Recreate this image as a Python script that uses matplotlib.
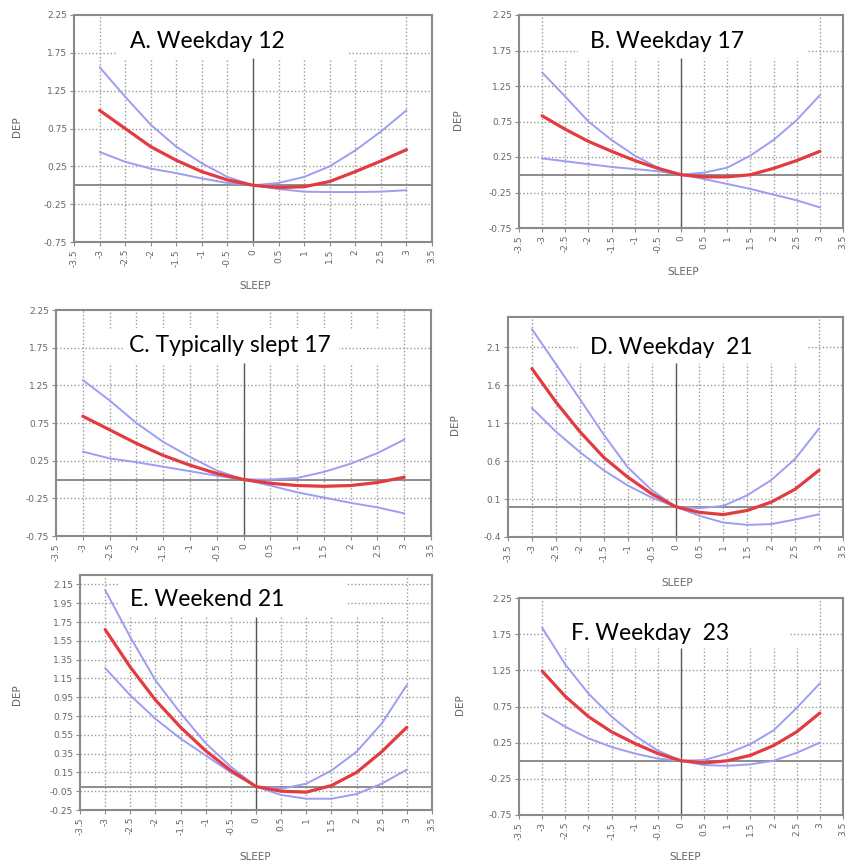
import matplotlib
matplotlib.use("Agg")
import matplotlib.pyplot as plt
from matplotlib.patches import Rectangle

W, H = 850, 867

# ---------------- data ----------------
sleep = [-3, -2.5, -2, -1.5, -1, -0.5, 0, 0.5, 1, 1.5, 2, 2.5, 3]
x_ticks = [-3.5, -3, -2.5, -2, -1.5, -1, -0.5, 0, 0.5, 1, 1.5, 2, 2.5, 3, 3.5]
x_tick_labels = ["-3.5", "-3", "-2.5", "-2", "-1.5", "-1", "-0.5", "0",
                 "0.5", "1", "1.5", "2", "2.5", "3", "3.5"]

titles = ["A. Weekday 12", "B. Weekday 17", "C. Typically slept 17",
          "D. Weekday  21", "E. Weekend 21", "F. Weekday  23"]

a_est = [0.99, 0.75, 0.51, 0.33, 0.18, 0.07, 0.0, -0.03, -0.02, 0.05, 0.18, 0.32, 0.47]
a_upper = [1.56, 1.17, 0.80, 0.51, 0.29, 0.11, 0.0, 0.03, 0.11, 0.25, 0.46, 0.71, 0.99]
a_lower = [0.44, 0.31, 0.22, 0.16, 0.09, 0.03, 0.0, -0.05, -0.085, -0.09, -0.09, -0.085, -0.065]

b_est = [0.83, 0.64, 0.47, 0.33, 0.20, 0.09, 0.0, -0.03, -0.03, 0.0, 0.09, 0.20, 0.33]
b_upper = [1.44, 1.10, 0.75, 0.49, 0.27, 0.10, 0.0, 0.03, 0.10, 0.27, 0.49, 0.77, 1.12]
b_lower = [0.23, 0.19, 0.15, 0.11, 0.08, 0.05, 0.0, -0.06, -0.13, -0.20, -0.28, -0.36, -0.46]

c_est = [0.84, 0.66, 0.48, 0.32, 0.19, 0.08, 0.0, -0.05, -0.08, -0.09, -0.08, -0.04, 0.03]
c_upper = [1.32, 1.05, 0.75, 0.50, 0.30, 0.12, 0.0, 0.0, 0.02, 0.10, 0.21, 0.35, 0.53]
c_lower = [0.37, 0.28, 0.23, 0.17, 0.11, 0.05, 0.0, -0.08, -0.17, -0.24, -0.31, -0.37, -0.45]

d_est = [1.82, 1.38, 0.99, 0.65, 0.39, 0.17, 0.0, -0.075, -0.105, -0.05, 0.06, 0.23, 0.48]
d_upper = [2.34, 1.88, 1.42, 0.95, 0.52, 0.22, 0.0, -0.02, 0.01, 0.15, 0.35, 0.63, 1.03]
d_lower = [1.30, 0.99, 0.72, 0.48, 0.28, 0.12, 0.0, -0.12, -0.21, -0.24, -0.23, -0.17, -0.10]

e_est = [1.67, 1.27, 0.92, 0.63, 0.38, 0.17, 0.0, -0.05, -0.06, 0.01, 0.15, 0.37, 0.63]
e_upper = [2.09, 1.59, 1.13, 0.78, 0.46, 0.21, 0.0, -0.025, 0.03, 0.17, 0.37, 0.67, 1.08]
e_lower = [1.26, 0.97, 0.72, 0.51, 0.33, 0.15, 0.0, -0.09, -0.13, -0.13, -0.08, 0.03, 0.18]

f_est = [1.24, 0.89, 0.61, 0.40, 0.24, 0.10, 0.0, -0.03, 0.0, 0.075, 0.21, 0.40, 0.66]
f_upper = [1.84, 1.33, 0.93, 0.61, 0.35, 0.14, 0.0, 0.01, 0.10, 0.23, 0.42, 0.73, 1.07]
f_lower = [0.66, 0.47, 0.31, 0.19, 0.10, 0.03, 0.0, -0.06, -0.07, -0.05, 0.0, 0.11, 0.25]

y_ticks_std = [-0.75, -0.25, 0.25, 0.75, 1.25, 1.75, 2.25]
y_labels_std = ["-0.75", "-0.25", "0.25", "0.75", "1.25", "1.75", "2.25"]
y_ticks_d = [-0.4, 0.1, 0.6, 1.1, 1.6, 2.1]
y_labels_d = ["-0.4", "0.1", "0.6", "1.1", "1.6", "2.1"]
y_ticks_e = [-0.25, -0.05, 0.15, 0.35, 0.55, 0.75, 0.95, 1.15, 1.35, 1.55, 1.75, 1.95, 2.15]
y_labels_e = ["-0.25", "-0.05", "0.15", "0.35", "0.55", "0.75", "0.95", "1.15",
              "1.35", "1.55", "1.75", "1.95", "2.15"]

series = [(a_est, a_upper, a_lower), (b_est, b_upper, b_lower), (c_est, c_upper, c_lower),
          (d_est, d_upper, d_lower), (e_est, e_upper, e_lower), (f_est, f_upper, f_lower)]
yaxes = [(y_ticks_std, y_labels_std), (y_ticks_std, y_labels_std), (y_ticks_std, y_labels_std),
         (y_ticks_d, y_labels_d), (y_ticks_e, y_labels_e), (y_ticks_std, y_labels_std)]

# ---------------- layout (pixels) ----------------
# axes rect: left, top, right, bottom
rects = [(74, 15, 432, 242), (519, 15, 843, 228), (56, 310, 431, 536),
         (508, 317, 843, 537), (80, 575, 432, 810), (519, 598, 843, 815)]
ylims = [(-0.75, 2.25), (-0.75, 2.25), (-0.75, 2.25), (-0.4, 2.5), (-0.25, 2.25), (-0.75, 2.25)]
title_pos = [(207, 41), (667, 41), (230, 345), (671, 347), (207, 599), (650, 633)]
boxes = [(118, 22, 347, 58), (578, 22, 807, 58), (123, 328, 339, 363),
         (578, 325, 807, 363), (118, 578, 347, 617), (548, 612, 789, 648)]
vline_top_px = [58, 58, 363, 363, 617, 648]
vline_band2_px = [None, None, 328, None, None, None]
dep_pos = [(17, 127), (458, 120), None, (455, 425), (17, 695), (460, 705)]
sleep_pos = [(255, 286), (683, 272), None, (677, 583), (255, 857), (685, 857)]

RED = "#e23b40"
BLUE = "#9d9df2"
GRID = "#9a9a9a"
SPINE = "#8a8a8a"
TXT = "#666666"

fig = plt.figure(figsize=(W / 100, H / 100), dpi=100)
fig.patch.set_facecolor("white")


def fx(px):
    return px / W


def fy(py):
    return 1 - py / H


for i in range(6):
    l, t, r, b = rects[i]
    ax = fig.add_axes([fx(l), fy(b), (r - l) / W, (b - t) / H])
    ymin, ymax = ylims[i]
    ax.set_xlim(-3.5, 3.5)
    ax.set_ylim(ymin, ymax)

    def py_to_data(py, t=t, b=b, ymin=ymin, ymax=ymax):
        return ymin + (b - py) / (b - t) * (ymax - ymin)

    yt, yl = yaxes[i]
    for yv in yt:
        if ymin < yv < ymax - 1e-9:
            ax.axhline(yv, color=GRID, lw=1.0, ls=(0, (1, 1.6)), zorder=0.5)
    ytop = py_to_data(vline_top_px[i])
    for xv in x_ticks:
        if abs(xv) == 3.5:
            continue
        if abs(xv) == 3:
            ax.vlines(xv, ymin, ymax, color=GRID, lw=1.0, ls=(0, (1, 1.6)), zorder=0.5)
        elif xv == 0:
            ax.vlines(xv, ymin, ytop, color="#555555", lw=1.0, zorder=0.6)
        else:
            ax.vlines(xv, ymin, ytop, color=GRID, lw=1.0, ls=(0, (1, 1.6)), zorder=0.5)
            if vline_band2_px[i] is not None:
                ax.vlines(xv, py_to_data(vline_band2_px[i]), ymax, color=GRID, lw=1.0,
                          ls=(0, (1, 1.6)), zorder=0.5)
    ax.axhline(0, color="#8c8c8c", lw=1.4, zorder=0.7)

    bx0, by0, bx1, by1 = boxes[i]
    ax.add_patch(Rectangle((fx(bx0), fy(by1)), (bx1 - bx0) / W, (by1 - by0) / H,
                           transform=fig.transFigure, facecolor="white",
                           edgecolor="none", zorder=2))

    est, up, lo = series[i]
    ax.plot(sleep, up, color=BLUE, lw=1.4, zorder=3, solid_capstyle="round",
            solid_joinstyle="round")
    ax.plot(sleep, lo, color=BLUE, lw=1.4, zorder=3, solid_capstyle="round",
            solid_joinstyle="round")
    ax.plot(sleep, est, color=RED, lw=2.3, zorder=4, solid_capstyle="round",
            solid_joinstyle="round")

    tx, ty = title_pos[i]
    ax.text(fx(tx), fy(ty), titles[i], transform=fig.transFigure, ha="center",
            va="center", fontsize=16.5, family=["Lato", "DejaVu Sans"], color="black", zorder=6)

    ax.set_xticks(x_ticks)
    ax.set_xticklabels(x_tick_labels, rotation=90, fontsize=6.5, color=TXT)
    ax.set_yticks(yt)
    ax.set_yticklabels(yl, fontsize=6.5, color=TXT)
    ax.tick_params(axis="both", direction="out", length=3, width=0.8, color=SPINE, pad=2)
    for s in ax.spines.values():
        s.set_color(SPINE)
        s.set_linewidth(1.5)
        s.set_zorder(5)

    if dep_pos[i] is not None:
        dx, dy = dep_pos[i]
        fig.text(fx(dx), fy(dy), "DEP", rotation=90, ha="center", va="center",
                 fontsize=7.5, color=TXT)
    if sleep_pos[i] is not None:
        sx, sy = sleep_pos[i]
        fig.text(fx(sx), fy(sy), "SLEEP", ha="center", va="center",
                 fontsize=7.5, color=TXT)

fig.savefig("out.png", dpi=100, facecolor="white")
